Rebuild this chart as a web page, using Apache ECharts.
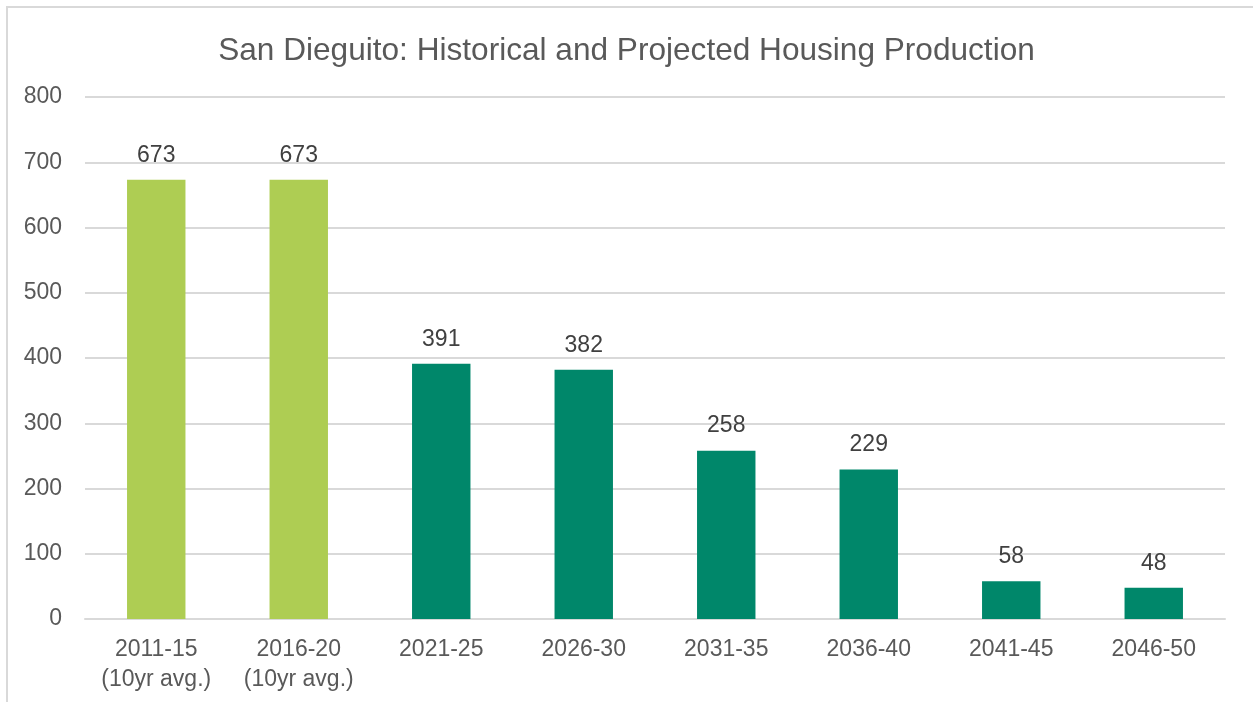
<!DOCTYPE html>
<html>
<head>
<meta charset="utf-8">
<script src="https://cdn.jsdelivr.net/npm/echarts@6/dist/echarts.min.js"></script>
<style>
  html, body { margin: 0; padding: 0; background: #ffffff; }
  #chart { width: 1253px; height: 702px; }
</style>
</head>
<body>
<div id="chart"></div>
<script>
// Housing production by period (units per year)
const categories = ['2011-15\n(10yr avg.)', '2016-20\n(10yr avg.)', '2021-25', '2026-30', '2031-35', '2036-40', '2041-45', '2046-50'];
const production = [673, 673, 391, 382, 258, 229, 58, 48];
const historicalCount = 2; // first periods are historical, the rest projected
const yTicks = { min: 0, max: 800, interval: 100 };

const historicalColor = '#AECD53';
const projectedColor = '#00876A';
const textFont = '"Liberation Sans", Arial, sans-serif';

const chart = echarts.init(document.getElementById('chart'));
chart.setOption({
  backgroundColor: '#ffffff',
  animation: false,
  title: {
    text: 'San Dieguito: Historical and Projected Housing Production',
    left: 'center',
    top: 30,
    textStyle: { fontFamily: textFont, fontSize: 31.6, fontWeight: 'normal', color: '#595959' }
  },
  graphic: [{
    type: 'rect',
    shape: { x: 7, y: 7, width: 1270, height: 720 },
    style: { fill: 'none', stroke: '#d9d9d9', lineWidth: 2 },
    silent: true
  }],
  grid: { left: 85, right: 28, top: 97, bottom: 83 },
  xAxis: {
    type: 'category',
    data: categories,
    axisLine: { lineStyle: { color: '#d9d9d9', width: 2 } },
    axisTick: { show: false },
    axisLabel: {
      fontFamily: textFont, fontSize: 23, color: '#595959',
      lineHeight: 30, margin: 16, interval: 0
    }
  },
  yAxis: {
    type: 'value',
    min: yTicks.min, max: yTicks.max, interval: yTicks.interval,
    axisLine: { show: false },
    axisTick: { show: false },
    splitLine: { lineStyle: { color: '#d9d9d9', width: 2 } },
    axisLabel: { fontFamily: textFont, fontSize: 23, color: '#595959', margin: 23 }
  },
  series: [{
    type: 'bar',
    barWidth: '41%',
    data: production.map((v, i) => ({
      value: v,
      itemStyle: { color: i < historicalCount ? historicalColor : projectedColor }
    })),
    label: {
      show: true,
      position: 'top',
      distance: 13,
      fontFamily: textFont, fontSize: 23, color: '#404040'
    }
  }]
});
</script>
</body>
</html>
